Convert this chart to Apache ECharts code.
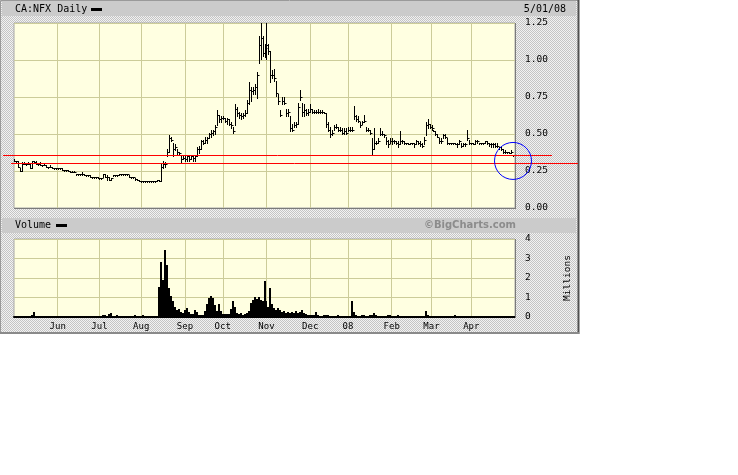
<!DOCTYPE html>
<html><head><meta charset="utf-8">
<script src="https://cdn.jsdelivr.net/npm/echarts@6/dist/echarts.min.js"></script>
<style>html,body{margin:0;padding:0;background:#fff}#c{width:738px;height:475px}</style>
</head><body><div id="c"></div><script>
// ---- DATA ----
const monthNames = ['May','Jun','Jul','Aug','Sep','Oct','Nov','Dec','08','Feb','Mar','Apr','May'];
const monthTradingDays = [22,21,21,22,19,22,22,19,22,20,20,22,1];
const monthLabelShown = [false,true,true,true,true,true,true,true,true,true,true,true,false];

const high = [
.33,.32,.32,.27,.31,.31,.30,.31,.30,.32,
.32,.32,.30,.31,.29,.30,.29,.28,.29,.28,
.27,.27,.27,.27,.27,.26,.26,.26,.25,.25,
.25,.23,.23,.23,.245,.23,.22,.22,.22,.21,
.21,.21,.21,.20,.20,.23,.23,.22,.21,.20,
.22,.22,.22,.23,.23,.23,.23,.23,.22,.21,
.21,.20,.195,.19,.185,.185,.185,.185,.185,.18,
.18,.18,.19,.19,.30,.32,.31,.40,.49,.48,
.44,.43,.40,.38,.36,.35,.35,.36,.35,.36,
.35,.36,.41,.42,.46,.46,.48,.48,.51,.53,
.53,.56,.66,.63,.62,.62,.61,.61,.60,.58,
.55,.70,.68,.65,.64,.64,.66,.73,.85,.82,
.82,.84,.92,1.16,1.25,1.16,1.11,1.25,1.11,1.06,
.93,.94,.86,.77,.66,.75,.75,.67,.67,.62,
.57,.58,.58,.71,.80,.71,.70,.67,.67,.70,
.67,.66,.66,.67,.66,.66,.65,.64,.58,.55,
.53,.56,.57,.55,.55,.54,.54,.54,.55,.55,
.55,.69,.63,.62,.58,.59,.63,.55,.54,.53,
.47,.54,.45,.47,.54,.52,.50,.48,.46,.47,
.47,.46,.45,.45,.52,.46,.45,.44,.44,.44,
.44,.44,.46,.45,.45,.44,.48,.58,.60,.57,
.56,.53,.52,.50,.47,.47,.50,.50,.47,.44,
.44,.44,.44,.44,.46,.44,.44,.44,.53,.46,
.44,.44,.46,.46,.44,.44,.44,.45,.45,.44,
.44,.44,.44,.44,.41,.41,.40,.39,.38,.38,
.39,.36,.35];

const low = [
.32,.31,.28,.25,.25,.30,.30,.30,.27,.27,
.31,.30,.30,.29,.29,.29,.28,.28,.28,.27,
.27,.27,.27,.27,.26,.26,.26,.25,.24,.24,
.24,.23,.23,.22,.22,.22,.22,.22,.21,.21,
.21,.21,.20,.20,.20,.21,.21,.19,.19,.19,
.22,.22,.22,.22,.23,.23,.23,.23,.21,.21,
.21,.19,.19,.185,.185,.18,.185,.185,.18,.18,
.18,.18,.18,.18,.18,.27,.28,.35,.38,.45,
.35,.39,.36,.36,.31,.33,.32,.32,.32,.33,
.32,.32,.35,.37,.40,.43,.44,.44,.47,.48,
.49,.50,.56,.58,.58,.60,.58,.57,.56,.54,
.51,.56,.62,.61,.60,.61,.62,.64,.70,.72,
.77,.77,.74,.98,1.01,1.03,1.02,1.01,1.04,.85,
.88,.86,.76,.70,.62,.70,.70,.62,.62,.52,
.52,.55,.55,.57,.73,.62,.62,.63,.63,.65,
.64,.64,.64,.64,.64,.64,.64,.55,.52,.48,
.49,.53,.54,.52,.52,.50,.50,.50,.52,.52,
.52,.60,.59,.58,.55,.57,.58,.52,.52,.50,
.36,.40,.43,.44,.49,.49,.48,.43,.41,.44,
.43,.44,.43,.41,.43,.44,.43,.43,.43,.43,
.43,.41,.43,.43,.42,.41,.43,.49,.54,.54,
.53,.52,.49,.48,.44,.44,.47,.47,.43,.43,
.43,.43,.43,.41,.43,.41,.42,.42,.46,.43,
.43,.43,.43,.44,.43,.43,.43,.44,.43,.42,
.41,.41,.41,.41,.40,.39,.37,.37,.37,.37,
.37,.35,.33];

const close = [
.32,.32,.28,.25,.30,.30,.30,.30,.27,.32,
.31,.30,.30,.29,.29,.29,.28,.28,.28,.27,
.27,.27,.27,.27,.26,.26,.26,.25,.24,.24,
.24,.23,.23,.23,.23,.22,.22,.22,.21,.21,
.21,.21,.20,.20,.20,.23,.21,.21,.19,.20,
.22,.22,.22,.23,.23,.23,.23,.23,.21,.21,
.21,.195,.19,.185,.185,.185,.185,.185,.18,.18,
.18,.18,.19,.18,.28,.30,.30,.38,.47,.46,
.40,.41,.38,.37,.33,.34,.33,.35,.33,.35,
.34,.35,.40,.40,.45,.44,.46,.47,.50,.51,
.52,.55,.63,.60,.61,.61,.59,.60,.57,.56,
.52,.67,.64,.63,.62,.63,.64,.71,.80,.79,
.80,.82,.90,1.10,1.15,1.05,1.08,1.10,1.06,.90,
.90,.88,.78,.72,.63,.72,.71,.64,.65,.54,
.53,.56,.57,.68,.75,.65,.66,.64,.65,.67,
.65,.65,.65,.65,.65,.65,.64,.57,.53,.50,
.51,.55,.55,.53,.53,.51,.52,.51,.53,.53,
.53,.62,.60,.59,.56,.58,.59,.53,.53,.51,
.40,.44,.44,.45,.50,.50,.49,.45,.43,.45,
.45,.45,.44,.43,.45,.45,.44,.44,.43,.44,
.44,.43,.45,.44,.43,.42,.46,.56,.57,.55,
.54,.52,.50,.48,.45,.45,.49,.48,.44,.44,
.44,.44,.43,.43,.45,.42,.43,.43,.47,.44,
.44,.43,.45,.45,.44,.44,.44,.45,.44,.43,
.43,.43,.42,.42,.41,.40,.38,.38,.38,.37,
.38,.36,.33];

const volumeMillions = [
.02,.03,.01,.02,.04,.02,.01,.03,.02,.08,
.26,.05,.02,.01,.03,.02,.01,.02,.03,.02,
.05,.02,.01,.02,.03,.01,.02,.02,.06,.06,
.02,.01,.03,.02,.01,.04,.02,.01,.03,.02,
.02,.03,.01,.02,.03,.08,.10,.03,.15,.18,
.04,.02,.10,.03,.02,.01,.03,.02,.01,.02,
.03,.10,.02,.01,.03,.12,.02,.01,.02,.03,
.02,.03,.05,1.55,2.84,1.90,3.45,2.68,1.50,1.10,
.80,.50,.38,.40,.25,.20,.35,.45,.25,.15,
.15,.35,.25,.12,.12,.12,.30,.68,.95,1.08,
.95,.60,.30,.68,.30,.15,.15,.15,.15,.40,
.80,.50,.20,.15,.18,.12,.15,.20,.30,.70,
.85,1.00,.90,1.03,.86,.80,1.86,.80,.50,1.50,
.65,.45,.35,.45,.35,.25,.30,.20,.28,.22,
.25,.20,.30,.22,.28,.35,.20,.15,.12,.10,
.08,.10,.25,.08,.06,.05,.08,.10,.12,.06,
.05,.04,.06,.08,.03,.04,.05,.03,.04,.05,
.80,.25,.08,.06,.05,.10,.08,.06,.05,.10,
.12,.20,.08,.06,.05,.04,.06,.05,.08,.08,
.04,.05,.06,.08,.05,.03,.04,.03,.05,.04,
.03,.04,.05,.03,.04,.03,.06,.30,.12,.05,
.04,.03,.05,.05,.03,.04,.03,.02,.04,.06,
.03,.04,.08,.03,.02,.03,.04,.02,.05,.03,
.02,.03,.02,.04,.02,.03,.02,.03,.02,.04,
.02,.03,.02,.02,.03,.02,.04,.02,.03,.02,
.03,.02,.04];

const refLevels = [0.356, 0.302];      // drawn support/resistance levels
const circleMark = [251, 0.318];        // [day index, price] of the circled spot

const titleText = 'CA:NFX Daily';
const dateText = '5/01/08';
const volumeTitle = 'Volume';
const creditText = '\u00A9BigCharts.com';
const volumeUnit = 'Millions';

// ---- categories (one per trading day) ----
const days = [];
monthNames.forEach((m, mi) => { for (let k = 0; k < monthTradingDays[mi]; k++) days.push(mi + '|' + k); });
function isMonthLine(idx) {
  const p = String(days[idx]).split('|');
  return p[1] === '0' && monthLabelShown[+p[0]];
}
function monthLabel(val) {
  const p = String(val).split('|');
  return (p[1] === '0' && monthLabelShown[+p[0]]) ? monthNames[+p[0]] : '';
}

// ---- dither pattern ----
const pc = document.createElement('canvas'); pc.width = 2; pc.height = 2;
const pctx = pc.getContext('2d');
pctx.fillStyle = '#f2f2f2'; pctx.fillRect(0, 0, 2, 2);
pctx.fillStyle = '#c4c4c4'; pctx.fillRect(0, 0, 1, 1); pctx.fillRect(1, 1, 1, 1);
const dither = { image: pc, repeat: 'repeat' };

const GRID = '#cccc99';
const MONO = '"DejaVu Sans Mono", monospace';

function renderBar(params, api) {
  const i = api.value(0);
  const pH = api.coord([i, api.value(1)]);
  const pL = api.coord([i, api.value(2)]);
  const pC = api.coord([i, api.value(3)]);
  const x = Math.round(pH[0]) + 0.5;
  let yTop = Math.round(pH[1]), yBot = Math.round(pL[1]);
  if (yBot - yTop < 1) yBot = yTop + 1;
  const yc = Math.round(pC[1]) + 0.5;
  return { type: 'group', children: [
    { type: 'line', shape: { x1: x, y1: yTop, x2: x, y2: yBot + 1 }, style: { stroke: '#000', lineWidth: 1 } },
    { type: 'line', shape: { x1: x, y1: yc, x2: x + 2, y2: yc }, style: { stroke: '#000', lineWidth: 1 } }
  ]};
}
function renderVol(params, api) {
  const i = api.value(0);
  const pT = api.coord([i, api.value(1)]);
  const p0 = api.coord([i, 0]);
  const x = Math.round(pT[0]) - 1;
  const h = Math.max(1, Math.round(p0[1] - pT[1]));
  return { type: 'rect', shape: { x: x, y: Math.round(p0[1]) - h, width: 2, height: h }, style: { fill: '#000' } };
}

const chart = echarts.init(document.getElementById('c'), null, { renderer: 'canvas' });

const bgElements = [
  { id: 'frame', type: 'rect', z: -10, shape: { x: 0.5, y: 0.5, width: 578, height: 332 }, style: { fill: dither, stroke: '#9a9a9a', lineWidth: 1 } },
  { id: 'frameR', type: 'line', z: -9, shape: { x1: 578.5, y1: 0, x2: 578.5, y2: 334 }, style: { stroke: '#505050', lineWidth: 2 } },
  { id: 'frameB', type: 'line', z: -9, shape: { x1: 0, y1: 333, x2: 579, y2: 333 }, style: { stroke: '#8a8a8a', lineWidth: 2 } },
  { id: 'hdr1', type: 'rect', z: -8, shape: { x: 2, y: 1, width: 574, height: 15 }, style: { fill: '#cbcbcb' } },
  { id: 'hdr2', type: 'rect', z: -8, shape: { x: 2, y: 218, width: 574, height: 15 }, style: { fill: '#cbcbcb' } },
  { id: 't1', type: 'text', z: 5, style: { text: titleText, x: 15, y: 9, font: '10px ' + MONO, fill: '#000', textVerticalAlign: 'middle' } },
  { id: 'leg1', type: 'rect', z: 5, shape: { x: 91, y: 8, width: 11, height: 3 }, style: { fill: '#000' } },
  { id: 't2', type: 'text', z: 5, style: { text: dateText, x: 566, y: 9, font: '10px ' + MONO, fill: '#000', textAlign: 'right', textVerticalAlign: 'middle' } },
  { id: 't3', type: 'text', z: 5, style: { text: volumeTitle, x: 15, y: 225.5, font: '10px ' + MONO, fill: '#000', textVerticalAlign: 'middle' } },
  { id: 'leg2', type: 'rect', z: 5, shape: { x: 56, y: 224, width: 11, height: 3 }, style: { fill: '#000' } },
  { id: 't4', type: 'text', z: 5, style: { text: creditText, x: 516, y: 225.5, font: 'bold 10px "DejaVu Sans", sans-serif', fill: '#8c8c8c', textAlign: 'right', textVerticalAlign: 'middle' } },
  { id: 'shR', type: 'line', z: 4, shape: { x1: 515.5, y1: 23, x2: 515.5, y2: 209 }, style: { stroke: '#7a7a7a', lineWidth: 1 } },
  { id: 'shB', type: 'line', z: 4, shape: { x1: 14, y1: 208.5, x2: 516, y2: 208.5 }, style: { stroke: '#7a7a7a', lineWidth: 1 } },
  { id: 'shR2', type: 'line', z: 4, shape: { x1: 515.5, y1: 239, x2: 515.5, y2: 318 }, style: { stroke: '#7a7a7a', lineWidth: 1 } }
];

const option = {
  backgroundColor: '#ffffff',
  animation: false,
  graphic: { elements: bgElements },
  grid: [
    { left: 14, top: 23, width: 501, height: 185, show: true, backgroundColor: '#ffffe1', borderColor: '#a8a8a8', borderWidth: 1 },
    { left: 14, top: 239, width: 501, height: 78, show: true, backgroundColor: '#ffffe1', borderColor: '#a8a8a8', borderWidth: 1 }
  ],
  xAxis: [
    { type: 'category', gridIndex: 0, data: days, boundaryGap: false,
      axisLine: { show: false }, axisTick: { show: false }, axisLabel: { show: false },
      splitLine: { show: true, interval: (idx) => isMonthLine(idx), lineStyle: { color: GRID, width: 1 } } },
    { type: 'category', gridIndex: 1, data: days, boundaryGap: false,
      axisLine: { show: true, lineStyle: { color: '#000', width: 2 } }, axisTick: { show: false },
      axisLabel: { show: true, interval: (idx) => isMonthLine(idx), formatter: monthLabel, margin: 5, color: '#000', fontFamily: 'DejaVu Sans Mono', fontSize: 9 },
      splitLine: { show: true, interval: (idx) => isMonthLine(idx), lineStyle: { color: GRID, width: 1 } } }
  ],
  yAxis: [
    { type: 'value', gridIndex: 0, position: 'right', min: 0, max: 1.25, interval: 0.25,
      axisLine: { show: false }, axisTick: { show: false },
      axisLabel: { margin: 10, formatter: (v) => v.toFixed(2), color: '#000', fontFamily: 'DejaVu Sans Mono', fontSize: 9.5 },
      splitLine: { show: true, lineStyle: { color: GRID, width: 1 } } },
    { type: 'value', gridIndex: 1, position: 'right', min: 0, max: 4, interval: 1,
      axisLine: { show: false }, axisTick: { show: false },
      name: volumeUnit, nameLocation: 'middle', nameRotate: 90, nameGap: 48,
      nameTextStyle: { color: '#000', fontFamily: 'DejaVu Sans Mono', fontSize: 9.5 },
      axisLabel: { margin: 10, formatter: (v) => String(v), color: '#000', fontFamily: 'DejaVu Sans Mono', fontSize: 9.5 },
      splitLine: { show: true, lineStyle: { color: GRID, width: 1 } } }
  ],
  series: [
    { type: 'custom', name: 'price', xAxisIndex: 0, yAxisIndex: 0, clip: true,
      data: high.map((h, i) => [i, h, low[i], close[i]]), encode: { x: 0, y: [1, 2, 3] }, renderItem: renderBar },
    { type: 'custom', name: 'volume', xAxisIndex: 1, yAxisIndex: 1, clip: true,
      data: volumeMillions.map((v, i) => [i, v]), encode: { x: 0, y: 1 }, renderItem: renderVol }
  ]
};
chart.setOption(option);

// annotations placed through the chart's own scales
const yA = chart.convertToPixel({ gridIndex: 0 }, [0, refLevels[0]])[1];
const yB = chart.convertToPixel({ gridIndex: 0 }, [0, refLevels[1]])[1];
const cPt = chart.convertToPixel({ gridIndex: 0 }, circleMark);
chart.setOption({ graphic: { elements: bgElements.concat([
  { id: 'ref1', type: 'line', z: 20, shape: { x1: 3, y1: Math.round(yA) + 0.5, x2: 552, y2: Math.round(yA) + 0.5 }, style: { stroke: '#ff0000', lineWidth: 1 } },
  { id: 'ref2', type: 'line', z: 20, shape: { x1: 11, y1: Math.round(yB) + 0.5, x2: 578, y2: Math.round(yB) + 0.5 }, style: { stroke: '#ff0000', lineWidth: 1 } },
  { id: 'circ', type: 'circle', z: 21, shape: { cx: cPt[0], cy: cPt[1], r: 18.5 }, style: { fill: 'none', stroke: '#0000ff', lineWidth: 1 } }
]) } });
</script></body></html>
